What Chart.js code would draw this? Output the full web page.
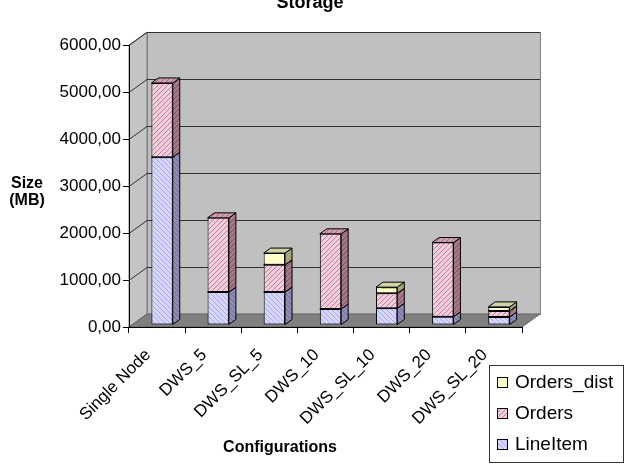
<!DOCTYPE html>
<html>
<head>
<meta charset="utf-8">
<script src="https://cdn.jsdelivr.net/npm/chart.js@4"></script>
<style>
  body { margin: 0; background: #fff; }
  #wrap { width: 630px; height: 470px; }
</style>
</head>
<body>
<div id="wrap"><canvas id="storageChart" width="630" height="470"></canvas></div>
<script>
// chart data
var configurations = ['Single Node', 'DWS_5', 'DWS_SL_5', 'DWS_10', 'DWS_SL_10', 'DWS_20', 'DWS_SL_20'];
var lineItemSizes = [3570, 700, 700, 340, 355, 175, 170];
var ordersSizes = [1580, 1580, 580, 1600, 320, 1580, 130];
var ordersDistSizes = [null, null, 250, null, 130, null, 85];
var seriesNames = ['LineItem', 'Orders', 'Orders_dist'];
var sizeTickStep = 1000;
var sizeMax = 6000;

var FONT = "'Liberation Sans', Arial, sans-serif";

// diagonal hatch patterns, dir 1 = '/', -1 = '\'
function hatch(bg, fg, dir) {
  var s = 5;
  var c = document.createElement('canvas');
  c.width = s; c.height = s;
  var x = c.getContext('2d');
  x.fillStyle = bg;
  x.fillRect(0, 0, s, s);
  if (fg) {
    x.strokeStyle = fg;
    x.lineWidth = 1;
    x.beginPath();
    for (var k = -1; k <= 1; k++) {
      if (dir > 0) { x.moveTo(k * s, s); x.lineTo(k * s + s, 0); }
      else { x.moveTo(k * s, 0); x.lineTo(k * s + s, s); }
    }
    x.stroke();
  }
  return x.createPattern(c, 'repeat');
}

var frontFill = [hatch('#d6d6ff', '#a8a8e8', -1), hatch('#f2cede', '#c47a96', 1), hatch('#ffffc8')];
var sideFill = [hatch('#8c8cb4', '#6e6e96', -1), hatch('#a47a8a', '#7c4e60', 1), hatch('#a4a47a')];
var topFill = [hatch('#b4b4e0', '#9090c0', -1), hatch('#d0a0b2', '#a06a80', 1), hatch('#d2d2a4')];

var wallDepth = { dx: 18, dy: 13 };
var barDepth = { dx: 7, dy: 5 };
var barShift = { x: 5, y: -2 };

var box3d = {
  id: 'box3d',
  beforeDraw: function(chart) {
    var ctx = chart.ctx, a = chart.chartArea, d = wallDepth;
    var yScale = chart.scales.y;
    ctx.save();
    ctx.lineWidth = 1;
    ctx.strokeStyle = '#808080';
    // back wall
    ctx.fillStyle = '#c0c0c0';
    ctx.fillRect(a.left + d.dx, a.top - d.dy, a.right - a.left, a.bottom - a.top);
    ctx.strokeRect(a.left + d.dx + 0.5, a.top - d.dy + 0.5, a.right - a.left, a.bottom - a.top);
    // left wall
    ctx.beginPath();
    ctx.moveTo(a.left, a.top);
    ctx.lineTo(a.left + d.dx, a.top - d.dy);
    ctx.lineTo(a.left + d.dx, a.bottom - d.dy);
    ctx.lineTo(a.left, a.bottom);
    ctx.closePath();
    ctx.fillStyle = '#c4c4c4';
    ctx.fill();
    ctx.stroke();
    // floor
    ctx.beginPath();
    ctx.moveTo(a.left, a.bottom);
    ctx.lineTo(a.left + d.dx, a.bottom - d.dy);
    ctx.lineTo(a.right + d.dx, a.bottom - d.dy);
    ctx.lineTo(a.right, a.bottom);
    ctx.closePath();
    ctx.fillStyle = '#808080';
    ctx.fill();
    ctx.strokeStyle = '#606060';
    ctx.stroke();
    // grid lines on left and back wall
    ctx.strokeStyle = '#303030';
    yScale.ticks.forEach(function(t) {
      if (t.value === 0) return;
      var y = Math.round(yScale.getPixelForValue(t.value)) + 0.5;
      ctx.beginPath();
      ctx.moveTo(a.left, y);
      ctx.lineTo(a.left + d.dx, y - d.dy);
      ctx.lineTo(a.right + d.dx, y - d.dy);
      ctx.stroke();
    });
    ctx.restore();
  },
  beforeDatasetsDraw: function(chart) {
    var ctx = chart.ctx, b = barDepth;
    ctx.save();
    ctx.translate(barShift.x, barShift.y);
    ctx.lineWidth = 1;
    ctx.strokeStyle = '#000';
    chart.data.datasets.forEach(function(ds, i) {
      chart.getDatasetMeta(i).data.forEach(function(el, j) {
        if (ds.data[j] == null) return;
        var p = el.getProps(['x', 'y', 'base', 'width'], true);
        var l = p.x - p.width / 2, r = p.x + p.width / 2;
        // side face
        ctx.beginPath();
        ctx.moveTo(r, p.y);
        ctx.lineTo(r + b.dx, p.y - b.dy);
        ctx.lineTo(r + b.dx, p.base - b.dy);
        ctx.lineTo(r, p.base);
        ctx.closePath();
        ctx.fillStyle = sideFill[i];
        ctx.fill();
        ctx.stroke();
        // top face
        ctx.beginPath();
        ctx.moveTo(l, p.y);
        ctx.lineTo(l + b.dx, p.y - b.dy);
        ctx.lineTo(r + b.dx, p.y - b.dy);
        ctx.lineTo(r, p.y);
        ctx.closePath();
        ctx.fillStyle = topFill[i];
        ctx.fill();
        ctx.stroke();
      });
    });
  },
  afterDatasetsDraw: function(chart) {
    chart.ctx.restore();
  },
  afterDraw: function(chart) {
    var ctx = chart.ctx;
    ctx.save();
    ctx.fillStyle = '#000';
    ctx.textAlign = 'center';
    ctx.textBaseline = 'alphabetic';
    ctx.font = 'bold 18px ' + FONT;
    ctx.fillText('Storage', 310, 8);
    ctx.font = 'bold 16px ' + FONT;
    ctx.fillText('Size', 27, 188);
    ctx.fillText('(MB)', 27, 205);
    ctx.fillText('Configurations', 280, 452);
    // legend box
    ctx.strokeStyle = '#333';
    ctx.lineWidth = 1;
    ctx.strokeRect(489.5, 365.5, 134, 97);
    ctx.font = '19px ' + FONT;
    ctx.textAlign = 'left';
    ctx.textBaseline = 'middle';
    [2, 1, 0].forEach(function(i, k) {
      var cy = 382 + k * 31;
      ctx.fillStyle = frontFill[i];
      ctx.fillRect(497, cy - 5, 11, 11);
      ctx.strokeStyle = '#000';
      ctx.strokeRect(497.5, cy - 4.5, 10, 10);
      ctx.fillStyle = '#000';
      ctx.fillText(chart.data.datasets[i].label, 515, cy + 1);
    });
    ctx.restore();
  }
};

var datasets = [lineItemSizes, ordersSizes, ordersDistSizes].map(function(values, i) {
  return {
    label: seriesNames[i],
    data: values,
    backgroundColor: frontFill[i],
    borderColor: '#000',
    borderWidth: 1,
    borderSkipped: false,
    barPercentage: 0.38,
    categoryPercentage: 1
  };
});

new Chart(document.getElementById('storageChart'), {
  type: 'bar',
  data: { labels: configurations, datasets: datasets },
  options: {
    responsive: false,
    animation: false,
    layout: { padding: { left: 0, top: 45, right: 108, bottom: 0 } },
    plugins: { legend: { display: false }, title: { display: false }, tooltip: { enabled: false } },
    scales: {
      x: {
        stacked: true,
        afterFit: function(scale) { scale.height = 143; },
        grid: { offset: true, drawOnChartArea: false, tickLength: 6, color: '#000' },
        border: { color: '#000' },
        ticks: { autoSkip: false, maxRotation: 45, minRotation: 45, padding: 12, labelOffset: -9, color: '#000', font: { family: FONT, size: 17 } }
      },
      y: {
        stacked: true,
        min: 0,
        max: sizeMax,
        afterFit: function(scale) { scale.width = 129; },
        grid: { drawOnChartArea: false, tickLength: 6, color: '#000' },
        border: { color: '#000' },
        ticks: {
          stepSize: sizeTickStep,
          padding: 2,
          color: '#000',
          font: { family: FONT, size: 17 },
          callback: function(v) { return v.toFixed(2).replace('.', ','); }
        }
      }
    }
  },
  plugins: [box3d]
});
</script>
</body>
</html>
